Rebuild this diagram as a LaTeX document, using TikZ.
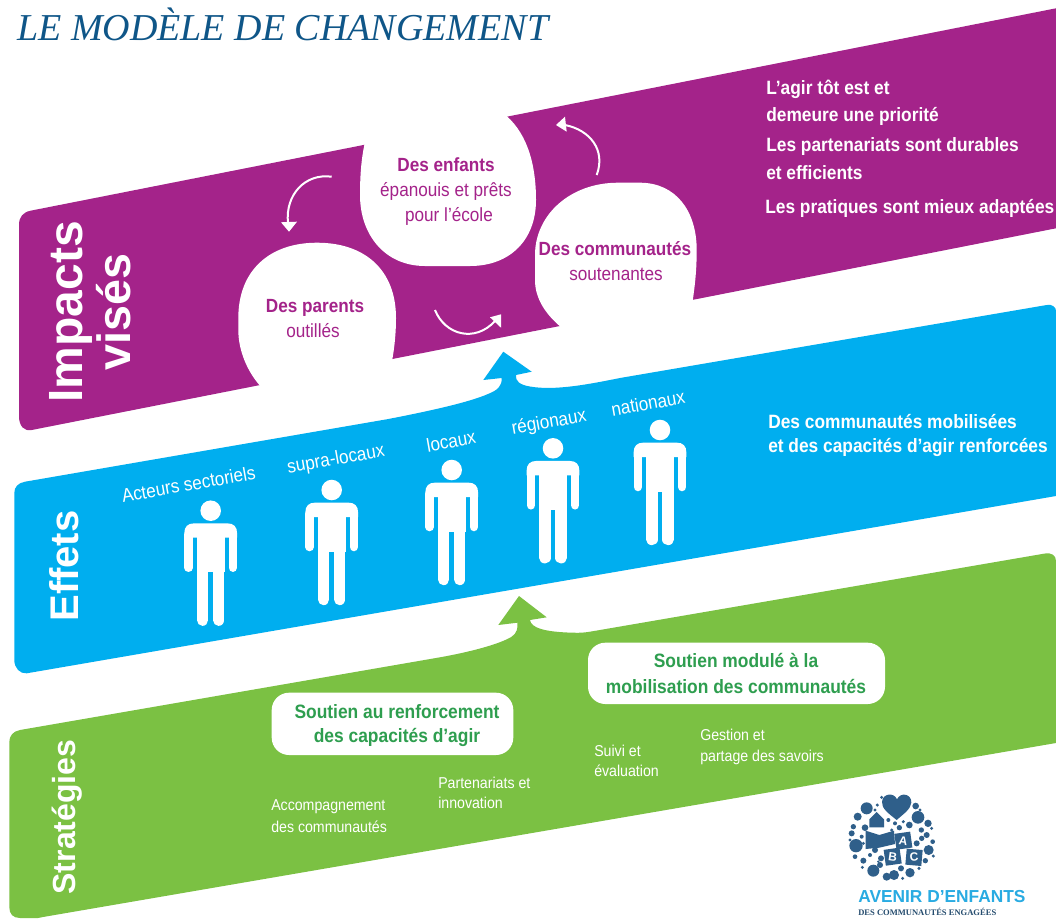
\documentclass[tikz,border=0pt]{standalone}
\usepackage{fontspec}
\setmainfont{Liberation Sans}
\newfontfamily\nar[FakeStretch=0.9]{Liberation Sans}
\newfontfamily\titlef{Liberation Serif}
\newfontfamily\logof{Liberation Serif}
\definecolor{purp}{HTML}{A4238A}
\definecolor{bleu}{HTML}{00AEEF}
\definecolor{vert}{HTML}{7BC143}
\definecolor{vertt}{HTML}{2E9E4F}
\definecolor{titre}{HTML}{0F5688}
\definecolor{logod}{HTML}{2F5F8A}
\definecolor{logol}{HTML}{29ABE2}
\newcommand{\fsz}[1]{\fontsize{#1}{#1}\selectfont}
\tikzset{
  band title/.style={text=white,font=\bfseries,rotate=90,inner sep=0pt,anchor=base},
  bubble/.style={fill=white,draw=none},
  side/.style={text=white,anchor=west,inner sep=0pt,font=\nar\bfseries\fsz{14.45}},
  bubtext/.style={text=purp,inner sep=0pt,font=\nar\fsz{14.3},anchor=center},
  bubbold/.style={bubtext,font=\nar\bfseries\fsz{14.3}},
  actor/.style={text=white,inner sep=0pt,rotate=10,font=\nar\fsz{14.3}},
  boxtext/.style={text=vertt,inner sep=0pt,font=\nar\bfseries\fsz{14.5}},
  small/.style={text=white,anchor=west,inner sep=0pt,font=\nar\fsz{11.8}},
  cyc/.style={draw=white,line width=1.5pt},
  cychead/.style={fill=white,draw=none},
}
\newcommand{\person}[2]{%
  \begin{scope}[shift={(#1,#2)}]
    \fill[white] (0,0) circle[radius=7.7pt];
    \fill[white] (-26.4,27) -- (-26.4,22.6) .. controls (-26.4,16) and (-23,12.6) .. (-16.4,12.6)
       -- (16.4,12.6) .. controls (23,12.6) and (26.4,16) .. (26.4,22.6) -- (26.4,27) -- cycle;
    \fill[white] (-13.8,20) rectangle (13.8,61.7);
    \draw[white,line width=6.4pt,line cap=round] (-22.1,24) -- (-22.1,57);
    \draw[white,line width=6.4pt,line cap=round] (22.1,24) -- (22.1,57);
    \draw[white,line width=8.5pt,line cap=round] (-8.1,55) -- (-8.1,109.5);
    \draw[white,line width=8.5pt,line cap=round] (8.1,55) -- (8.1,109.5);
  \end{scope}}
\begin{document}
\begin{tikzpicture}[x=0.75pt,y=-0.75pt]
\useasboundingbox (0,0) rectangle (1056,918);
\fill[white] (0,0) rectangle (1056,918);

% title
\node[anchor=west,inner sep=0pt,text=titre,font=\titlef\itshape\fsz{28.5}] (title) at (17,24) {LE MODÈLE DE CHANGEMENT};

% purple band
\fill[purp] (30.6,210.7) -- (1056,8.3) -- (1056,228.3) -- (31.7,430)
  .. controls (24,431.5) and (19,426) .. (19,416) -- (19,225)
  .. controls (19,217) and (23,212.2) .. (30.6,210.7) -- cycle;
% bubbles
\fill[bubble] (368,130) .. controls (363,148) and (360,165) .. (360,195)
  .. controls (360,235) and (385,266) .. (425,266) -- (470,266)
  .. controls (510,266) and (536,240) .. (536,200)
  .. controls (536,160) and (525,130) .. (503,113) -- cycle;
\fill[bubble] (317,242.7) .. controls (270,242.7) and (238.3,270) .. (238.3,318) -- (238.3,330)
  .. controls (238.3,350) and (247,372) .. (262,388) -- (392,361)
  .. controls (395,345) and (396,330) .. (396,318)
  .. controls (396,270) and (365,242.7) .. (317,242.7) -- cycle;
\fill[bubble] (618,182.7) .. controls (570,182.7) and (535,215) .. (535,255) -- (535,280)
  .. controls (535,298) and (545,314) .. (562,328) -- (692.5,302)
  .. controls (695,285) and (696.7,270) .. (696.7,250)
  .. controls (696.7,210) and (675,182.7) .. (640,182.7) -- cycle;

% bubble texts
\node[bubbold] (e1) at (446,165) {Des enfants};
\node[bubtext] (e2) at (446,191) {épanouis et prêts};
\node[bubtext] (e3) at (449,216) {pour l’école};
\node[bubbold] (p1) at (315,308) {Des parents};
\node[bubtext] (p2) at (313,331) {outillés};
\node[bubbold] (c1) at (615,249) {Des communautés};
\node[bubtext] (c2) at (616,274) {soutenantes};

% cycle arrows
\coordinate (a1s) at (331.7,176.7);
\coordinate (a1e) at (288,223);
\coordinate (a2s) at (435,310);
\coordinate (a2e) at (495,321);
\coordinate (a3s) at (596.7,175);
\coordinate (a3e) at (565,125);
\draw[cyc] (a1s) .. controls (305,173) and (285,195) .. (a1e);
\fill[cychead] (289,231.7) -- (281,222.3) -- (297,221.7) -- cycle;
\draw[cyc] (a2s) .. controls (445,335) and (475,343) .. (a2e);
\fill[cychead] (501,314.3) -- (490,317.3) -- (501,327.7) -- cycle;
\draw[cyc] (a3s) .. controls (606,150) and (590,130) .. (a3e);
\fill[cychead] (556,125) -- (565,116.7) -- (566.7,131.7) -- cycle;

% side texts
\node[side] (s1) at (766,89) {L’agir tôt est et};
\node[side] (s2) at (766,116) {demeure une priorité};
\node[side] (s3) at (766,147) {Les partenariats sont durables};
\node[side] (s4) at (766,173) {et efficients};
\node[side] (s5) at (765,208) {Les pratiques sont mieux adaptées};

\node[band title,font=\bfseries\fsz{36}] (impacts) at (82.7,311.7) {Impacts};
\node[band title,font=\bfseries\fsz{35}] (vises) at (130,312) {visés};

% blue band
\fill[bleu] (25,481.7) -- (386.7,419.3)
  .. controls (430,411) and (470,402) .. (488,394)
  .. controls (498,390) and (502,386) .. (501.7,378)
  -- (483.3,380) -- (503.3,351.7) -- (531.7,371.7) -- (516,375)
  .. controls (515,381) and (520,385) .. (530,386.5)
  .. controls (555,391) and (590,384) .. (620,378)
  -- (1046.7,305) .. controls (1052,304) and (1056,307) .. (1056,311)
  -- (1056,496) -- (26.7,673.3)
  .. controls (20,674) and (14.3,668) .. (14.3,660) -- (14.3,493)
  .. controls (14.3,487) and (18,483) .. (25,481.7) -- cycle;

\node[band title,font=\bfseries\fsz{30}] (effets) at (78.3,566) {Effets};
\node[actor] (a1) at (188.5,484) {Acteurs sectoriels};
\node[actor] (a2) at (336,460) {supra-locaux};
\node[actor] (a3) at (451,441) {locaux};
\node[actor] (a4) at (549,423) {régionaux};
\node[actor] (a5) at (648,403) {nationaux};
\person{210.7}{510.7}
\person{331.7}{490}
\person{451.7}{470}
\person{553}{448.3}
\person{660}{430}
\node[side] (b1) at (768,422) {Des communautés mobilisées};
\node[side] (b2) at (768,447) {et des capacités d’agir renforcées};

% green band
\fill[vert] (20,730) -- (440,657.3)
  .. controls (470,652) and (500,644) .. (511.7,636.7)
  .. controls (517,633) and (518,628) .. (517.3,622.7)
  -- (498.3,625) -- (519,596) -- (546.7,617.3) -- (530,620)
  .. controls (531,628) and (545,632) .. (573,632.7)
  .. controls (580,633) and (585,632.5) .. (590,631.7)
  -- (1045,553.5) .. controls (1051,552.5) and (1056,555) .. (1056,561)
  -- (1056,743) -- (43,917) -- (38,918) -- (20,918)
  .. controls (13,918) and (9.3,914) .. (9.3,907) -- (9.3,742)
  .. controls (9.3,736) and (13,731.2) .. (20,730) -- cycle;

\node[band title,font=\bfseries\fsz{24}] (strat) at (75,817) {Stratégies};
\fill[white,rounded corners=13pt] (271.7,692.7) rectangle (513.3,755);
\fill[white,rounded corners=13pt] (588,642.7) rectangle (885,704);
\node[boxtext] (g1) at (397,711.5) {Soutien au renforcement};
\node[boxtext] (g2) at (397,737.5) {des capacités d’agir};
\node[boxtext] (g3) at (736,660.5) {Soutien modulé à la};
\node[boxtext] (g4) at (736,686.5) {mobilisation des communautés};
\node[small] (t1) at (271,806.5) {Accompagnement};
\node[small] (t2) at (271,826.5) {des communautés};
\node[small] (t3) at (438,783) {Partenariats et};
\node[small] (t4) at (438,803) {innovation};
\node[small] (t5) at (594,751) {Suivi et};
\node[small] (t6) at (594,771) {évaluation};
\node[small] (t7) at (700,735) {Gestion et};
\node[small] (t8) at (700,757) {partage des savoirs};

% logo
\begin{scope}[shift={(820,780)},x=0.25pt,y=-0.25pt]
  \foreach \cx/\cy/\r in {140/85/18,113/110/12,172/75/5,165/90/5,185/52/5,287/78/10,294/112/19,324/130/11,304/150/8,335/145/5,338/185/7,326/210/15,316/242/8,340/228/5,108/197/20,95/160/9,100/140/8,90/180/5,125/170/6,105/230/7,127/262/5,150/225/6,183/235/9,165/210/9,130/242/9,160/272/18,180/255/9,200/290/12,222/285/15,243/265/9,270/278/14,248/295/5,297/265/5,290/190/9,320/165/9,305/175/8,268/135/10,238/143/8,205/120/6,185/195/5,225/130/6,135/143/10,215/150/5,130/190/5,175/245/4,300/90/5,250/125/5}
    \fill[logod] (\cx,\cy) circle[radius=\r*0.25pt];
  \fill[logod] (230,120) .. controls (205,100) and (184,85) .. (186,65)
     .. controls (188,40) and (222,36) .. (231,58)
     .. controls (240,36) and (275,40) .. (274,68)
     .. controls (272,88) and (250,102) .. (230,120) -- cycle;
  \fill[logod] (148,142) -- (148,118) -- (170,96) -- (192,118) -- (192,142) -- cycle;
  \fill[logod] (137,152) -- (178,165) -- (222,152) -- (225,192) -- (178,203) -- (137,207) -- cycle;
  \fill[logod,rotate around={8:(250,182)}] (226,158) rectangle (274,206);
  \fill[logod,rotate around={8:(218,230)}] (194,206) rectangle (242,254);
  \fill[logod,rotate around={-5:(282,232)}] (258,208) rectangle (306,256);
  \node[text=white,inner sep=0pt,font=\bfseries\fsz{9},rotate=-8] (la) at (250,182) {A};
  \node[text=white,inner sep=0pt,font=\bfseries\fsz{9},rotate=-8] (lb) at (218,230) {B};
  \node[text=white,inner sep=0pt,font=\bfseries\fsz{9},rotate=5] (lc) at (282,232) {C};
\end{scope}
\node[anchor=west,inner sep=0pt,text=logol,font=\bfseries\fsz{13}] (l1) at (858,897) {AVENIR D'ENFANTS};
\node[anchor=west,inner sep=0pt,text=logod!80!black,font=\logof\bfseries\fsz{6.4}] (l2) at (858,912) {DES COMMUNAUTÉS ENGAGÉES};
\end{tikzpicture}
\end{document}
